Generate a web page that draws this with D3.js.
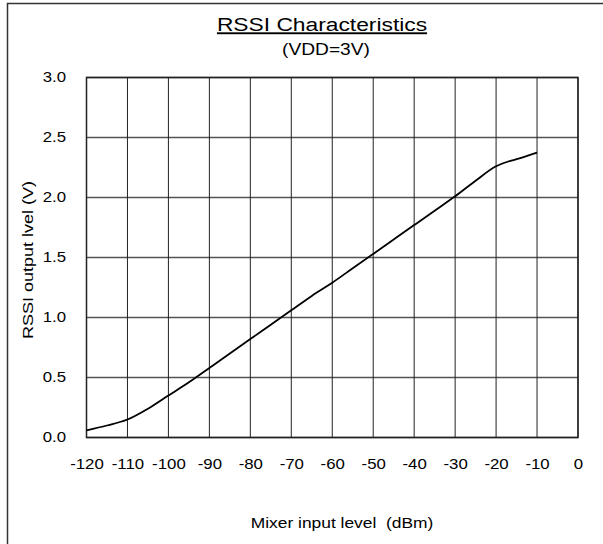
<!DOCTYPE html>
<html>
<head>
<meta charset="utf-8">
<script src="https://cdn.jsdelivr.net/npm/d3@7"></script>
<style>
  body { margin: 0; background: #fff; }
  text { font-family: Arial, "Liberation Sans", sans-serif; fill: #000; }
</style>
</head>
<body>
<div id="chart"></div>
<script>
// mixer input level (dBm) and RSSI output (V)
const inputLevel = [-120, -115, -110, -105, -100, -95, -90, -85, -80, -75, -70, -65,
  -60, -55, -50, -45, -40, -35, -30, -25, -20, -17, -15, -10];
const rssiOut = [0.06, 0.10, 0.15, 0.24, 0.35, 0.46, 0.58, 0.70, 0.82, 0.94, 1.06, 1.18,
  1.29, 1.41, 1.53, 1.65, 1.77, 1.89, 2.01, 2.14, 2.26, 2.30, 2.32, 2.375];
const xTicks = [-120, -110, -100, -90, -80, -70, -60, -50, -40, -30, -20, -10, 0];
const yTicks = [0, 0.5, 1.0, 1.5, 2.0, 2.5, 3.0];

const width = 603, height = 544;
const stretch = 1.2; // source text is a bit wide

const svg = d3.select('#chart').append('svg')
  .attr('width', width)
  .attr('height', height);

// outer frame (runs off right/bottom)
svg.append('rect')
  .attr('x', 7.5).attr('y', 3.5)
  .attr('width', 620).attr('height', 560)
  .attr('fill', 'none')
  .attr('stroke', '#333')
  .attr('stroke-width', 1.5);

const scaleX = d3.scaleLinear().domain([-120, 0]).range([86.5, 578]);
const scaleY = d3.scaleLinear().domain([0, 3]).range([437.5, 77.5]);

// grid
svg.append('g').selectAll('line')
  .data(yTicks)
  .join('line')
  .attr('x1', scaleX(-120)).attr('x2', scaleX(0))
  .attr('y1', d => scaleY(d)).attr('y2', d => scaleY(d))
  .attr('stroke', '#555')
  .attr('stroke-width', 1.3);

svg.append('g').selectAll('line')
  .data(xTicks)
  .join('line')
  .attr('x1', d => scaleX(d)).attr('x2', d => scaleX(d))
  .attr('y1', scaleY(0)).attr('y2', scaleY(3))
  .attr('stroke', '#222')
  .attr('stroke-width', 1);

// plot frame
svg.append('rect')
  .attr('x', scaleX(-120)).attr('y', scaleY(3))
  .attr('width', scaleX(0) - scaleX(-120))
  .attr('height', scaleY(0) - scaleY(3))
  .attr('fill', 'none')
  .attr('stroke', '#222')
  .attr('stroke-width', 1.5);

// axes (labels only)
const axisYCall = d3.axisLeft(scaleY).tickValues(yTicks).tickFormat(d => d.toFixed(1)).tickSize(0).tickPadding(17);
const axisY = svg.append('g')
  .attr('transform', `translate(${scaleX(-120)}, 0)`)
  .call(axisYCall);

const axisXCall = d3.axisBottom(scaleX).tickValues(xTicks).tickFormat(d => String(d)).tickSize(0);
const axisX = svg.append('g')
  .attr('transform', `translate(0, ${scaleY(0)})`)
  .call(axisXCall);

[axisX, axisY].forEach(ax => {
  ax.select('.domain').remove();
  ax.selectAll('text')
    .style('font-size', '14px')
    .attr('fill', '#000')
    .attr('transform', `scale(${stretch},1)`);
});
axisX.selectAll('text').attr('y', 22).attr('dy', '0.71em');

// curve
const line = d3.line()
  .x((d, i) => scaleX(inputLevel[i]))
  .y(d => scaleY(d))
  .curve(d3.curveMonotoneX);

svg.append('path')
  .datum(rssiOut)
  .attr('d', line)
  .attr('fill', 'none')
  .attr('stroke', '#000')
  .attr('stroke-width', 1.8);

// titles
svg.append('text')
  .attr('transform', `translate(322, 30.5) scale(${stretch},1)`)
  .attr('text-anchor', 'middle')
  .style('font-size', '19px')
  .style('text-decoration', 'underline')
  .text('RSSI Characteristics');

svg.append('text')
  .attr('transform', `translate(326, 55) scale(${stretch},1)`)
  .attr('text-anchor', 'middle')
  .style('font-size', '16px')
  .text('(VDD=3V)');

svg.append('text')
  .attr('transform', `translate(342, 528) scale(${stretch},1)`)
  .attr('text-anchor', 'middle')
  .style('font-size', '14.5px')
  .style('white-space', 'pre')
  .text('Mixer input level  (dBm)');

svg.append('text')
  .attr('transform', `translate(33, 260) rotate(-90) scale(${stretch},1)`)
  .attr('text-anchor', 'middle')
  .style('font-size', '15px')
  .text('RSSI output lvel (V)');
</script>
</body>
</html>
